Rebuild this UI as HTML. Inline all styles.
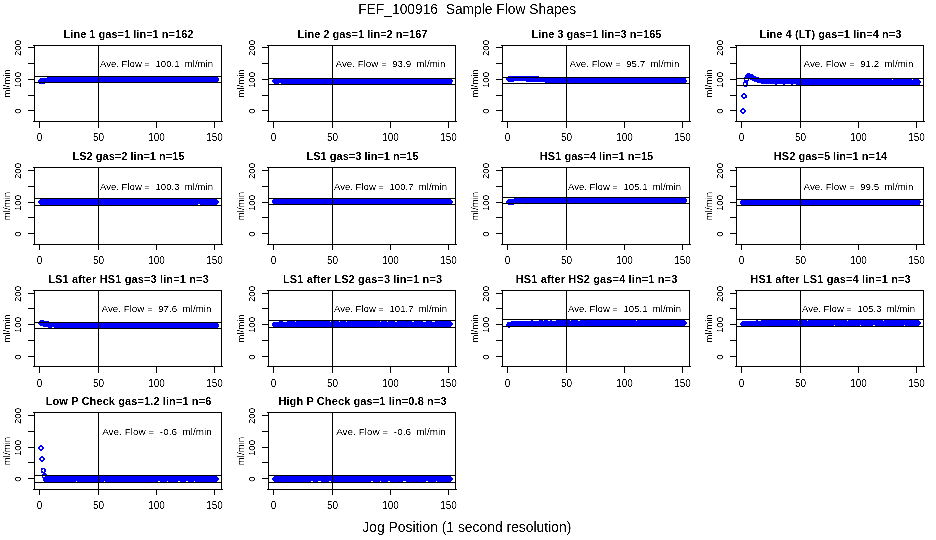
<!DOCTYPE html><html><head><meta charset="utf-8"><style>html,body{margin:0;padding:0;background:#fff;}svg{display:block;}text{font-family:"Liberation Sans",Arial,sans-serif;}</style></head><body>
<svg width="936" height="540" viewBox="0 0 936 540">
<rect width="936" height="540" fill="#fff"/>
<path fill="#0000ff" shape-rendering="crispEdges" d="M747 73h3v1h-3zM746 74h7v1h-7zM745 75h9v1h-9zM52 76h4v1h-4zM57 76h2v1h-2zM60 76h3v1h-3zM65 76h3v1h-3zM73 76h2v1h-2zM79 76h1v1h-1zM82 76h4v1h-4zM87 76h3v1h-3zM91 76h8v1h-8zM100 76h6v1h-6zM108 76h2v1h-2zM112 76h11v1h-11zM125 76h5v1h-5zM131 76h12v1h-12zM144 76h13v1h-13zM158 76h3v1h-3zM162 76h3v1h-3zM166 76h5v1h-5zM174 76h10v1h-10zM187 76h2v1h-2zM191 76h1v1h-1zM196 76h1v1h-1zM199 76h2v1h-2zM203 76h1v1h-1zM205 76h2v1h-2zM209 76h3v1h-3zM213 76h3v1h-3zM508 76h31v1h-31zM745 76h11v1h-11zM47 77h171v1h-171zM507 77h41v1h-41zM744 77h15v1h-15zM40 78h179v1h-179zM274 78h13v1h-13zM288 78h9v1h-9zM300 78h7v1h-7zM312 78h15v1h-15zM328 78h19v1h-19zM348 78h16v1h-16zM365 78h4v1h-4zM370 78h6v1h-6zM377 78h2v1h-2zM380 78h2v1h-2zM383 78h3v1h-3zM387 78h4v1h-4zM392 78h1v1h-1zM394 78h7v1h-7zM402 78h2v1h-2zM406 78h2v1h-2zM409 78h2v1h-2zM413 78h4v1h-4zM418 78h1v1h-1zM420 78h13v1h-13zM434 78h3v1h-3zM438 78h3v1h-3zM442 78h5v1h-5zM448 78h2v1h-2zM506 78h180v1h-180zM744 78h20v1h-20zM39 79h180v1h-180zM273 79h179v1h-179zM506 79h180v1h-180zM744 79h1v1h-1zM748 79h1v1h-1zM750 79h142v1h-142zM893 79h19v1h-19zM913 79h6v1h-6zM38 80h181v1h-181zM272 80h181v1h-181zM507 80h180v1h-180zM744 80h5v1h-5zM752 80h168v1h-168zM38 81h180v1h-180zM272 81h181v1h-181zM508 81h6v1h-6zM526 81h161v1h-161zM744 81h4v1h-4zM754 81h167v1h-167zM39 82h10v1h-10zM273 82h179v1h-179zM545 82h141v1h-141zM743 82h5v1h-5zM757 82h164v1h-164zM39 83h6v1h-6zM274 83h5v1h-5zM281 83h171v1h-171zM548 83h1v1h-1zM551 83h4v1h-4zM556 83h1v1h-1zM558 83h5v1h-5zM572 83h2v1h-2zM579 83h2v1h-2zM582 83h4v1h-4zM587 83h2v1h-2zM590 83h4v1h-4zM595 83h2v1h-2zM598 83h4v1h-4zM604 83h1v1h-1zM606 83h7v1h-7zM614 83h3v1h-3zM618 83h1v1h-1zM622 83h3v1h-3zM631 83h2v1h-2zM634 83h3v1h-3zM638 83h7v1h-7zM647 83h2v1h-2zM650 83h1v1h-1zM652 83h1v1h-1zM655 83h3v1h-3zM660 83h2v1h-2zM663 83h5v1h-5zM669 83h6v1h-6zM676 83h3v1h-3zM680 83h3v1h-3zM743 83h1v1h-1zM746 83h2v1h-2zM761 83h159v1h-159zM743 84h1v1h-1zM746 84h2v1h-2zM775 84h2v1h-2zM783 84h2v1h-2zM791 84h2v1h-2zM796 84h124v1h-124zM743 85h5v1h-5zM744 86h3v1h-3zM743 93h2v1h-2zM742 94h4v1h-4zM741 95h2v1h-2zM745 95h2v1h-2zM741 96h2v1h-2zM745 96h2v1h-2zM742 97h5v1h-5zM743 98h2v1h-2zM742 108h2v1h-2zM741 109h4v1h-4zM740 110h2v1h-2zM744 110h2v1h-2zM740 111h2v1h-2zM744 111h2v1h-2zM741 112h4v1h-4zM742 113h2v1h-2zM514 198h172v1h-172zM40 199h177v1h-177zM273 199h178v1h-178zM508 199h179v1h-179zM743 199h2v1h-2zM746 199h1v1h-1zM749 199h2v1h-2zM752 199h4v1h-4zM757 199h2v1h-2zM764 199h2v1h-2zM769 199h4v1h-4zM774 199h1v1h-1zM776 199h6v1h-6zM784 199h9v1h-9zM795 199h1v1h-1zM797 199h8v1h-8zM808 199h2v1h-2zM811 199h4v1h-4zM823 199h3v1h-3zM829 199h2v1h-2zM832 199h2v1h-2zM835 199h2v1h-2zM839 199h1v1h-1zM843 199h3v1h-3zM851 199h1v1h-1zM853 199h5v1h-5zM863 199h2v1h-2zM866 199h6v1h-6zM873 199h8v1h-8zM882 199h4v1h-4zM888 199h1v1h-1zM892 199h4v1h-4zM901 199h1v1h-1zM903 199h4v1h-4zM909 199h1v1h-1zM911 199h5v1h-5zM39 200h179v1h-179zM272 200h180v1h-180zM507 200h180v1h-180zM741 200h179v1h-179zM38 201h181v1h-181zM272 201h181v1h-181zM506 201h181v1h-181zM740 201h181v1h-181zM38 202h181v1h-181zM272 202h181v1h-181zM506 202h180v1h-180zM740 202h181v1h-181zM39 203h179v1h-179zM273 203h179v1h-179zM507 203h9v1h-9zM740 203h180v1h-180zM40 204h158v1h-158zM200 204h17v1h-17zM274 204h1v1h-1zM276 204h36v1h-36zM313 204h5v1h-5zM319 204h5v1h-5zM325 204h38v1h-38zM364 204h2v1h-2zM368 204h41v1h-41zM410 204h20v1h-20zM431 204h20v1h-20zM508 204h6v1h-6zM741 204h179v1h-179zM40 320h4v1h-4zM531 320h2v1h-2zM539 320h4v1h-4zM544 320h4v1h-4zM550 320h2v1h-2zM556 320h14v1h-14zM571 320h7v1h-7zM580 320h56v1h-56zM637 320h48v1h-48zM756 320h2v1h-2zM761 320h37v1h-37zM799 320h8v1h-8zM808 320h39v1h-39zM848 320h35v1h-35zM884 320h35v1h-35zM39 321h10v1h-10zM279 321h4v1h-4zM287 321h8v1h-8zM296 321h34v1h-34zM331 321h8v1h-8zM340 321h6v1h-6zM347 321h33v1h-33zM381 321h6v1h-6zM388 321h7v1h-7zM397 321h15v1h-15zM414 321h9v1h-9zM426 321h6v1h-6zM435 321h16v1h-16zM511 321h175v1h-175zM742 321h178v1h-178zM38 322h20v1h-20zM273 322h179v1h-179zM507 322h180v1h-180zM741 322h180v1h-180zM38 323h180v1h-180zM272 323h181v1h-181zM507 323h180v1h-180zM740 323h181v1h-181zM39 324h180v1h-180zM272 324h181v1h-181zM506 324h180v1h-180zM740 324h180v1h-180zM40 325h179v1h-179zM272 325h180v1h-180zM506 325h179v1h-179zM741 325h93v1h-93zM835 325h25v1h-25zM861 325h12v1h-12zM875 325h29v1h-29zM905 325h14v1h-14zM43 326h176v1h-176zM273 326h178v1h-178zM507 326h6v1h-6zM742 326h2v1h-2zM48 327h4v1h-4zM54 327h164v1h-164zM508 327h2v1h-2zM40 445h2v1h-2zM39 446h4v1h-4zM38 447h2v1h-2zM42 447h2v1h-2zM38 448h2v1h-2zM42 448h2v1h-2zM39 449h4v1h-4zM40 450h2v1h-2zM41 456h2v1h-2zM40 457h4v1h-4zM39 458h2v1h-2zM43 458h2v1h-2zM39 459h2v1h-2zM43 459h2v1h-2zM40 460h4v1h-4zM41 461h2v1h-2zM41 468h4v1h-4zM41 469h2v1h-2zM44 469h2v1h-2zM41 470h1v1h-1zM44 470h2v1h-2zM41 471h2v1h-2zM44 471h2v1h-2zM41 472h4v1h-4zM43 473h3v1h-3zM42 474h5v1h-5zM42 475h1v1h-1zM46 475h1v1h-1zM42 476h1v1h-1zM45 476h172v1h-172zM274 476h177v1h-177zM42 477h176v1h-176zM273 477h179v1h-179zM43 478h176v1h-176zM272 478h181v1h-181zM43 479h176v1h-176zM272 479h181v1h-181zM43 480h175v1h-175zM273 480h179v1h-179zM44 481h32v1h-32zM77 481h27v1h-27zM105 481h53v1h-53zM160 481h7v1h-7zM168 481h10v1h-10zM180 481h6v1h-6zM188 481h6v1h-6zM195 481h22v1h-22zM274 481h37v1h-37zM313 481h5v1h-5zM321 481h8v1h-8zM331 481h40v1h-40zM373 481h7v1h-7zM381 481h7v1h-7zM390 481h13v1h-13zM406 481h20v1h-20zM428 481h8v1h-8zM437 481h14v1h-14z"/>
<path fill="#000" shape-rendering="crispEdges" d="M33 45h189v1h-189zM33 121h190v1h-190zM34 45h1v77h-1zM221 45h1v77h-1zM39 121h1v7h-1zM98 121h1v7h-1zM156 121h1v7h-1zM214 121h1v7h-1zM28 110h7v1h-7zM28 95h7v1h-7zM28 79h7v1h-7zM28 63h7v1h-7zM28 47h7v1h-7zM98 45h1v77h-1zM34 76h188v1h-188zM34 82h188v1h-188zM267 45h189v1h-189zM267 121h190v1h-190zM268 45h1v77h-1zM455 45h1v77h-1zM273 121h1v7h-1zM332 121h1v7h-1zM390 121h1v7h-1zM448 121h1v7h-1zM262 110h7v1h-7zM262 95h7v1h-7zM262 79h7v1h-7zM262 63h7v1h-7zM262 47h7v1h-7zM332 45h1v77h-1zM268 78h188v1h-188zM268 84h188v1h-188zM501 45h189v1h-189zM501 121h190v1h-190zM502 45h1v77h-1zM689 45h1v77h-1zM507 121h1v7h-1zM566 121h1v7h-1zM624 121h1v7h-1zM682 121h1v7h-1zM496 110h7v1h-7zM496 95h7v1h-7zM496 79h7v1h-7zM496 63h7v1h-7zM496 47h7v1h-7zM566 45h1v77h-1zM502 77h188v1h-188zM502 83h188v1h-188zM735 45h189v1h-189zM735 121h190v1h-190zM736 45h1v77h-1zM923 45h1v77h-1zM741 121h1v7h-1zM800 121h1v7h-1zM858 121h1v7h-1zM916 121h1v7h-1zM730 110h7v1h-7zM730 95h7v1h-7zM730 79h7v1h-7zM730 63h7v1h-7zM730 47h7v1h-7zM800 45h1v77h-1zM736 78h188v1h-188zM736 85h188v1h-188zM33 167h189v1h-189zM33 244h190v1h-190zM34 167h1v78h-1zM221 167h1v78h-1zM39 244h1v6h-1zM98 244h1v6h-1zM156 244h1v6h-1zM214 244h1v6h-1zM28 233h7v1h-7zM28 217h7v1h-7zM28 202h7v1h-7zM28 186h7v1h-7zM28 170h7v1h-7zM98 167h1v78h-1zM34 198h188v1h-188zM34 205h188v1h-188zM267 167h189v1h-189zM267 244h190v1h-190zM268 167h1v78h-1zM455 167h1v78h-1zM273 244h1v6h-1zM332 244h1v6h-1zM390 244h1v6h-1zM448 244h1v6h-1zM262 233h7v1h-7zM262 217h7v1h-7zM262 202h7v1h-7zM262 186h7v1h-7zM262 170h7v1h-7zM332 167h1v78h-1zM268 198h188v1h-188zM268 204h188v1h-188zM501 167h189v1h-189zM501 244h190v1h-190zM502 167h1v78h-1zM689 167h1v78h-1zM507 244h1v6h-1zM566 244h1v6h-1zM624 244h1v6h-1zM682 244h1v6h-1zM496 233h7v1h-7zM496 217h7v1h-7zM496 202h7v1h-7zM496 186h7v1h-7zM496 170h7v1h-7zM566 167h1v78h-1zM502 197h188v1h-188zM502 203h188v1h-188zM735 167h189v1h-189zM735 244h190v1h-190zM736 167h1v78h-1zM923 167h1v78h-1zM741 244h1v6h-1zM800 244h1v6h-1zM858 244h1v6h-1zM916 244h1v6h-1zM730 233h7v1h-7zM730 217h7v1h-7zM730 202h7v1h-7zM730 186h7v1h-7zM730 170h7v1h-7zM800 167h1v78h-1zM736 199h188v1h-188zM736 205h188v1h-188zM33 290h189v1h-189zM33 366h190v1h-190zM34 290h1v77h-1zM221 290h1v77h-1zM39 366h1v7h-1zM98 366h1v7h-1zM156 366h1v7h-1zM214 366h1v7h-1zM28 356h7v1h-7zM28 340h7v1h-7zM28 324h7v1h-7zM28 308h7v1h-7zM28 293h7v1h-7zM98 290h1v77h-1zM34 322h188v1h-188zM34 328h188v1h-188zM267 290h189v1h-189zM267 366h190v1h-190zM268 290h1v77h-1zM455 290h1v77h-1zM273 366h1v7h-1zM332 366h1v7h-1zM390 366h1v7h-1zM448 366h1v7h-1zM262 356h7v1h-7zM262 340h7v1h-7zM262 324h7v1h-7zM262 308h7v1h-7zM262 293h7v1h-7zM332 290h1v77h-1zM268 320h188v1h-188zM268 327h188v1h-188zM501 290h189v1h-189zM501 366h190v1h-190zM502 290h1v77h-1zM689 290h1v77h-1zM507 366h1v7h-1zM566 366h1v7h-1zM624 366h1v7h-1zM682 366h1v7h-1zM496 356h7v1h-7zM496 340h7v1h-7zM496 324h7v1h-7zM496 308h7v1h-7zM496 293h7v1h-7zM566 290h1v77h-1zM502 319h188v1h-188zM502 326h188v1h-188zM735 290h189v1h-189zM735 366h190v1h-190zM736 290h1v77h-1zM923 290h1v77h-1zM741 366h1v7h-1zM800 366h1v7h-1zM858 366h1v7h-1zM916 366h1v7h-1zM730 356h7v1h-7zM730 340h7v1h-7zM730 324h7v1h-7zM730 308h7v1h-7zM730 293h7v1h-7zM800 290h1v77h-1zM736 319h188v1h-188zM736 326h188v1h-188zM33 412h189v1h-189zM33 489h190v1h-190zM34 412h1v78h-1zM221 412h1v78h-1zM39 489h1v6h-1zM98 489h1v6h-1zM156 489h1v6h-1zM214 489h1v6h-1zM28 478h7v1h-7zM28 462h7v1h-7zM28 447h7v1h-7zM28 431h7v1h-7zM28 415h7v1h-7zM98 412h1v78h-1zM34 475h188v1h-188zM34 482h188v1h-188zM267 412h189v1h-189zM267 489h190v1h-190zM268 412h1v78h-1zM455 412h1v78h-1zM273 489h1v6h-1zM332 489h1v6h-1zM390 489h1v6h-1zM448 489h1v6h-1zM262 478h7v1h-7zM262 462h7v1h-7zM262 447h7v1h-7zM262 431h7v1h-7zM262 415h7v1h-7zM332 412h1v78h-1zM268 475h188v1h-188zM268 482h188v1h-188z"/>
<defs><filter id="th" x="0" y="0" width="100%" height="100%" filterUnits="userSpaceOnUse"><feComponentTransfer><feFuncA type="table" tableValues="0 0 1 1"/></feComponentTransfer></filter></defs>
<g fill="#000" filter="url(#th)">
<text x="128.5" y="38" font-size="11" font-weight="bold" text-anchor="middle" textLength="129.83" lengthAdjust="spacing">Line 1 gas=1 lin=1 n=162</text>
<text x="156.5" y="67" font-size="9.8" text-anchor="middle" xml:space="preserve" textLength="113.14" lengthAdjust="spacingAndGlyphs">Ave. Flow =  100.1  ml/min</text>
<text x="39.5" y="141" font-size="10" text-anchor="middle">0</text>
<text x="98.5" y="141" font-size="10" text-anchor="middle">50</text>
<text x="156.5" y="141" font-size="10" text-anchor="middle">100</text>
<text x="214.5" y="141" font-size="10" text-anchor="middle">150</text>
<text transform="translate(21.3,111) rotate(-90)" font-size="9.7" text-anchor="middle">0</text>
<text transform="translate(21.3,80) rotate(-90)" font-size="9.7" text-anchor="middle">100</text>
<text transform="translate(21.3,48) rotate(-90)" font-size="9.7" text-anchor="middle">200</text>
<text transform="translate(10,83.5) rotate(-90)" font-size="9.7" text-anchor="middle">ml/min</text>
<text x="362.5" y="38" font-size="11" font-weight="bold" text-anchor="middle" textLength="129.83" lengthAdjust="spacing">Line 2 gas=1 lin=2 n=167</text>
<text x="390.5" y="67" font-size="9.8" text-anchor="middle" xml:space="preserve" textLength="109.8" lengthAdjust="spacingAndGlyphs">Ave. Flow =  93.9  ml/min</text>
<text x="273.5" y="141" font-size="10" text-anchor="middle">0</text>
<text x="332.5" y="141" font-size="10" text-anchor="middle">50</text>
<text x="390.5" y="141" font-size="10" text-anchor="middle">100</text>
<text x="448.5" y="141" font-size="10" text-anchor="middle">150</text>
<text transform="translate(255.3,111) rotate(-90)" font-size="9.7" text-anchor="middle">0</text>
<text transform="translate(255.3,80) rotate(-90)" font-size="9.7" text-anchor="middle">100</text>
<text transform="translate(255.3,48) rotate(-90)" font-size="9.7" text-anchor="middle">200</text>
<text transform="translate(244,83.5) rotate(-90)" font-size="9.7" text-anchor="middle">ml/min</text>
<text x="596.5" y="38" font-size="11" font-weight="bold" text-anchor="middle" textLength="129.83" lengthAdjust="spacing">Line 3 gas=1 lin=3 n=165</text>
<text x="624.5" y="67" font-size="9.8" text-anchor="middle" xml:space="preserve" textLength="109.8" lengthAdjust="spacingAndGlyphs">Ave. Flow =  95.7  ml/min</text>
<text x="507.5" y="141" font-size="10" text-anchor="middle">0</text>
<text x="566.5" y="141" font-size="10" text-anchor="middle">50</text>
<text x="624.5" y="141" font-size="10" text-anchor="middle">100</text>
<text x="682.5" y="141" font-size="10" text-anchor="middle">150</text>
<text transform="translate(489.3,111) rotate(-90)" font-size="9.7" text-anchor="middle">0</text>
<text transform="translate(489.3,80) rotate(-90)" font-size="9.7" text-anchor="middle">100</text>
<text transform="translate(489.3,48) rotate(-90)" font-size="9.7" text-anchor="middle">200</text>
<text transform="translate(478,83.5) rotate(-90)" font-size="9.7" text-anchor="middle">ml/min</text>
<text x="830.5" y="38" font-size="11" font-weight="bold" text-anchor="middle" textLength="141.79" lengthAdjust="spacing">Line 4 (LT) gas=1 lin=4 n=3</text>
<text x="858.5" y="67" font-size="9.8" text-anchor="middle" xml:space="preserve" textLength="109.8" lengthAdjust="spacingAndGlyphs">Ave. Flow =  91.2  ml/min</text>
<text x="741.5" y="141" font-size="10" text-anchor="middle">0</text>
<text x="800.5" y="141" font-size="10" text-anchor="middle">50</text>
<text x="858.5" y="141" font-size="10" text-anchor="middle">100</text>
<text x="916.5" y="141" font-size="10" text-anchor="middle">150</text>
<text transform="translate(723.3,111) rotate(-90)" font-size="9.7" text-anchor="middle">0</text>
<text transform="translate(723.3,80) rotate(-90)" font-size="9.7" text-anchor="middle">100</text>
<text transform="translate(723.3,48) rotate(-90)" font-size="9.7" text-anchor="middle">200</text>
<text transform="translate(712,83.5) rotate(-90)" font-size="9.7" text-anchor="middle">ml/min</text>
<text x="128.5" y="160" font-size="11" font-weight="bold" text-anchor="middle" textLength="112.09" lengthAdjust="spacing">LS2 gas=2 lin=1 n=15</text>
<text x="156.5" y="190" font-size="9.8" text-anchor="middle" xml:space="preserve" textLength="113.14" lengthAdjust="spacingAndGlyphs">Ave. Flow =  100.3  ml/min</text>
<text x="39.5" y="264" font-size="10" text-anchor="middle">0</text>
<text x="98.5" y="264" font-size="10" text-anchor="middle">50</text>
<text x="156.5" y="264" font-size="10" text-anchor="middle">100</text>
<text x="214.5" y="264" font-size="10" text-anchor="middle">150</text>
<text transform="translate(21.3,234) rotate(-90)" font-size="9.7" text-anchor="middle">0</text>
<text transform="translate(21.3,203) rotate(-90)" font-size="9.7" text-anchor="middle">100</text>
<text transform="translate(21.3,171) rotate(-90)" font-size="9.7" text-anchor="middle">200</text>
<text transform="translate(10,206.0) rotate(-90)" font-size="9.7" text-anchor="middle">ml/min</text>
<text x="362.5" y="160" font-size="11" font-weight="bold" text-anchor="middle" textLength="112.09" lengthAdjust="spacing">LS1 gas=3 lin=1 n=15</text>
<text x="390.5" y="190" font-size="9.8" text-anchor="middle" xml:space="preserve" textLength="113.14" lengthAdjust="spacingAndGlyphs">Ave. Flow =  100.7  ml/min</text>
<text x="273.5" y="264" font-size="10" text-anchor="middle">0</text>
<text x="332.5" y="264" font-size="10" text-anchor="middle">50</text>
<text x="390.5" y="264" font-size="10" text-anchor="middle">100</text>
<text x="448.5" y="264" font-size="10" text-anchor="middle">150</text>
<text transform="translate(255.3,234) rotate(-90)" font-size="9.7" text-anchor="middle">0</text>
<text transform="translate(255.3,203) rotate(-90)" font-size="9.7" text-anchor="middle">100</text>
<text transform="translate(255.3,171) rotate(-90)" font-size="9.7" text-anchor="middle">200</text>
<text transform="translate(244,206.0) rotate(-90)" font-size="9.7" text-anchor="middle">ml/min</text>
<text x="596.5" y="160" font-size="11" font-weight="bold" text-anchor="middle" textLength="113.33" lengthAdjust="spacing">HS1 gas=4 lin=1 n=15</text>
<text x="624.5" y="190" font-size="9.8" text-anchor="middle" xml:space="preserve" textLength="113.14" lengthAdjust="spacingAndGlyphs">Ave. Flow =  105.1  ml/min</text>
<text x="507.5" y="264" font-size="10" text-anchor="middle">0</text>
<text x="566.5" y="264" font-size="10" text-anchor="middle">50</text>
<text x="624.5" y="264" font-size="10" text-anchor="middle">100</text>
<text x="682.5" y="264" font-size="10" text-anchor="middle">150</text>
<text transform="translate(489.3,234) rotate(-90)" font-size="9.7" text-anchor="middle">0</text>
<text transform="translate(489.3,203) rotate(-90)" font-size="9.7" text-anchor="middle">100</text>
<text transform="translate(489.3,171) rotate(-90)" font-size="9.7" text-anchor="middle">200</text>
<text transform="translate(478,206.0) rotate(-90)" font-size="9.7" text-anchor="middle">ml/min</text>
<text x="830.5" y="160" font-size="11" font-weight="bold" text-anchor="middle" textLength="113.33" lengthAdjust="spacing">HS2 gas=5 lin=1 n=14</text>
<text x="858.5" y="190" font-size="9.8" text-anchor="middle" xml:space="preserve" textLength="109.8" lengthAdjust="spacingAndGlyphs">Ave. Flow =  99.5  ml/min</text>
<text x="741.5" y="264" font-size="10" text-anchor="middle">0</text>
<text x="800.5" y="264" font-size="10" text-anchor="middle">50</text>
<text x="858.5" y="264" font-size="10" text-anchor="middle">100</text>
<text x="916.5" y="264" font-size="10" text-anchor="middle">150</text>
<text transform="translate(723.3,234) rotate(-90)" font-size="9.7" text-anchor="middle">0</text>
<text transform="translate(723.3,203) rotate(-90)" font-size="9.7" text-anchor="middle">100</text>
<text transform="translate(723.3,171) rotate(-90)" font-size="9.7" text-anchor="middle">200</text>
<text transform="translate(712,206.0) rotate(-90)" font-size="9.7" text-anchor="middle">ml/min</text>
<text x="128.5" y="283" font-size="11" font-weight="bold" text-anchor="middle" textLength="160.53" lengthAdjust="spacing">LS1 after HS1 gas=3 lin=1 n=3</text>
<text x="156.5" y="312" font-size="9.8" text-anchor="middle" xml:space="preserve" textLength="109.8" lengthAdjust="spacingAndGlyphs">Ave. Flow =  97.6  ml/min</text>
<text x="39.5" y="387" font-size="10" text-anchor="middle">0</text>
<text x="98.5" y="387" font-size="10" text-anchor="middle">50</text>
<text x="156.5" y="387" font-size="10" text-anchor="middle">100</text>
<text x="214.5" y="387" font-size="10" text-anchor="middle">150</text>
<text transform="translate(21.3,357) rotate(-90)" font-size="9.7" text-anchor="middle">0</text>
<text transform="translate(21.3,325) rotate(-90)" font-size="9.7" text-anchor="middle">100</text>
<text transform="translate(21.3,294) rotate(-90)" font-size="9.7" text-anchor="middle">200</text>
<text transform="translate(10,328.5) rotate(-90)" font-size="9.7" text-anchor="middle">ml/min</text>
<text x="362.5" y="283" font-size="11" font-weight="bold" text-anchor="middle" textLength="159.11" lengthAdjust="spacing">LS1 after LS2 gas=3 lin=1 n=3</text>
<text x="390.5" y="312" font-size="9.8" text-anchor="middle" xml:space="preserve" textLength="113.14" lengthAdjust="spacingAndGlyphs">Ave. Flow =  101.7  ml/min</text>
<text x="273.5" y="387" font-size="10" text-anchor="middle">0</text>
<text x="332.5" y="387" font-size="10" text-anchor="middle">50</text>
<text x="390.5" y="387" font-size="10" text-anchor="middle">100</text>
<text x="448.5" y="387" font-size="10" text-anchor="middle">150</text>
<text transform="translate(255.3,357) rotate(-90)" font-size="9.7" text-anchor="middle">0</text>
<text transform="translate(255.3,325) rotate(-90)" font-size="9.7" text-anchor="middle">100</text>
<text transform="translate(255.3,294) rotate(-90)" font-size="9.7" text-anchor="middle">200</text>
<text transform="translate(244,328.5) rotate(-90)" font-size="9.7" text-anchor="middle">ml/min</text>
<text x="596.5" y="283" font-size="11" font-weight="bold" text-anchor="middle" textLength="161.56" lengthAdjust="spacing">HS1 after HS2 gas=4 lin=1 n=3</text>
<text x="624.5" y="312" font-size="9.8" text-anchor="middle" xml:space="preserve" textLength="113.14" lengthAdjust="spacingAndGlyphs">Ave. Flow =  105.1  ml/min</text>
<text x="507.5" y="387" font-size="10" text-anchor="middle">0</text>
<text x="566.5" y="387" font-size="10" text-anchor="middle">50</text>
<text x="624.5" y="387" font-size="10" text-anchor="middle">100</text>
<text x="682.5" y="387" font-size="10" text-anchor="middle">150</text>
<text transform="translate(489.3,357) rotate(-90)" font-size="9.7" text-anchor="middle">0</text>
<text transform="translate(489.3,325) rotate(-90)" font-size="9.7" text-anchor="middle">100</text>
<text transform="translate(489.3,294) rotate(-90)" font-size="9.7" text-anchor="middle">200</text>
<text transform="translate(478,328.5) rotate(-90)" font-size="9.7" text-anchor="middle">ml/min</text>
<text x="830.5" y="283" font-size="11" font-weight="bold" text-anchor="middle" textLength="160.33" lengthAdjust="spacing">HS1 after LS1 gas=4 lin=1 n=3</text>
<text x="858.5" y="312" font-size="9.8" text-anchor="middle" xml:space="preserve" textLength="113.14" lengthAdjust="spacingAndGlyphs">Ave. Flow =  105.3  ml/min</text>
<text x="741.5" y="387" font-size="10" text-anchor="middle">0</text>
<text x="800.5" y="387" font-size="10" text-anchor="middle">50</text>
<text x="858.5" y="387" font-size="10" text-anchor="middle">100</text>
<text x="916.5" y="387" font-size="10" text-anchor="middle">150</text>
<text transform="translate(723.3,357) rotate(-90)" font-size="9.7" text-anchor="middle">0</text>
<text transform="translate(723.3,325) rotate(-90)" font-size="9.7" text-anchor="middle">100</text>
<text transform="translate(723.3,294) rotate(-90)" font-size="9.7" text-anchor="middle">200</text>
<text transform="translate(712,328.5) rotate(-90)" font-size="9.7" text-anchor="middle">ml/min</text>
<text x="128.5" y="405" font-size="11" font-weight="bold" text-anchor="middle" textLength="165.63" lengthAdjust="spacing">Low P Check gas=1.2 lin=1 n=6</text>
<text x="157.0" y="435" font-size="9.8" text-anchor="middle" xml:space="preserve" textLength="109.7" lengthAdjust="spacingAndGlyphs">Ave. Flow =  -0.6  ml/min</text>
<text x="39.5" y="509" font-size="10" text-anchor="middle">0</text>
<text x="98.5" y="509" font-size="10" text-anchor="middle">50</text>
<text x="156.5" y="509" font-size="10" text-anchor="middle">100</text>
<text x="214.5" y="509" font-size="10" text-anchor="middle">150</text>
<text transform="translate(21.3,479) rotate(-90)" font-size="9.7" text-anchor="middle">0</text>
<text transform="translate(21.3,448) rotate(-90)" font-size="9.7" text-anchor="middle">100</text>
<text transform="translate(21.3,416) rotate(-90)" font-size="9.7" text-anchor="middle">200</text>
<text transform="translate(10,451.0) rotate(-90)" font-size="9.7" text-anchor="middle">ml/min</text>
<text x="362.5" y="405" font-size="11" font-weight="bold" text-anchor="middle" textLength="168.19" lengthAdjust="spacing">High P Check gas=1 lin=0.8 n=3</text>
<text x="391.0" y="435" font-size="9.8" text-anchor="middle" xml:space="preserve" textLength="109.7" lengthAdjust="spacingAndGlyphs">Ave. Flow =  -0.6  ml/min</text>
<text x="273.5" y="509" font-size="10" text-anchor="middle">0</text>
<text x="332.5" y="509" font-size="10" text-anchor="middle">50</text>
<text x="390.5" y="509" font-size="10" text-anchor="middle">100</text>
<text x="448.5" y="509" font-size="10" text-anchor="middle">150</text>
<text transform="translate(255.3,479) rotate(-90)" font-size="9.7" text-anchor="middle">0</text>
<text transform="translate(255.3,448) rotate(-90)" font-size="9.7" text-anchor="middle">100</text>
<text transform="translate(255.3,416) rotate(-90)" font-size="9.7" text-anchor="middle">200</text>
<text transform="translate(244,451.0) rotate(-90)" font-size="9.7" text-anchor="middle">ml/min</text>
<text x="358.2" y="14" font-size="14" xml:space="preserve" textLength="218" lengthAdjust="spacingAndGlyphs">FEF_100916  Sample Flow Shapes</text>
<text x="362.3" y="532" font-size="14" textLength="209" lengthAdjust="spacingAndGlyphs">Jog Position (1 second resolution)</text>
</g></svg></body></html>
